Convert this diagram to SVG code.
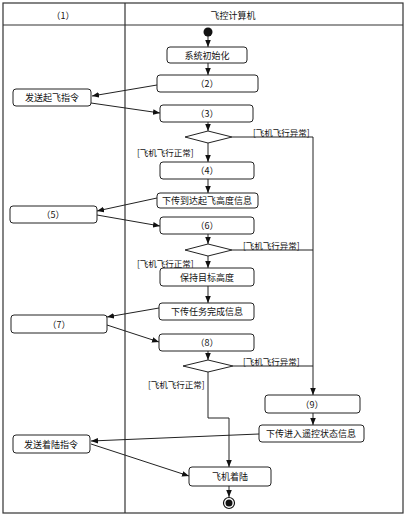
<svg xmlns="http://www.w3.org/2000/svg" width="408" height="518" viewBox="0 0 408 518">
<defs>
<marker id="ah" viewBox="0 0 10 10" refX="10" refY="5" markerWidth="7" markerHeight="7" markerUnits="userSpaceOnUse" orient="auto">
<path d="M0,1 L10,5 L0,9 z" fill="#111"/>
</marker>
<style>
.box{fill:#fff;stroke:#222;stroke-width:1}
.t{font-family:"Noto Sans CJK SC","Liberation Serif",serif;font-size:9px;fill:#111;text-anchor:middle;dominant-baseline:central}
.g{font-family:"Noto Sans CJK SC","Liberation Serif",serif;font-size:8.5px;fill:#111;dominant-baseline:central}
.c{fill:none;stroke:#222;stroke-width:1}
.a{fill:none;stroke:#222;stroke-width:1;marker-end:url(#ah)}
.frame{fill:none;stroke:#333;stroke-width:1.2}
</style>
</defs>
<rect width="408" height="518" fill="#fff"/>
<g id="frame">
<rect class="frame" x="3" y="3" width="400" height="510"/>
<line class="frame" x1="3" y1="25" x2="403" y2="25"/>
<line class="frame" x1="125" y1="3" x2="125" y2="513"/>
<text class="t" x="63" y="15">（1）</text>
<text class="t" x="233" y="15">飞控计算机</text>
</g>
<g id="connectors">
<line class="a" x1="208" y1="36" x2="208" y2="47"/>
<line class="a" x1="208" y1="63" x2="208" y2="75"/>
<line class="a" x1="157" y1="85" x2="92" y2="96"/>
<line class="a" x1="91" y1="103" x2="160" y2="113"/>
<line class="a" x1="208" y1="122" x2="208" y2="131"/>
<line class="a" x1="208" y1="143" x2="208" y2="162"/>
<line class="a" x1="208" y1="179" x2="208" y2="193"/>
<line class="a" x1="157" y1="198" x2="97" y2="211"/>
<line class="a" x1="97" y1="215" x2="160" y2="226"/>
<line class="a" x1="208" y1="234" x2="208" y2="244"/>
<line class="a" x1="208" y1="256" x2="208" y2="268"/>
<line class="a" x1="208" y1="286" x2="208" y2="303"/>
<line class="a" x1="159" y1="308" x2="107" y2="317"/>
<line class="a" x1="107" y1="325" x2="159" y2="342"/>
<line class="a" x1="208" y1="351" x2="208" y2="360"/>
<polyline class="a" points="208,372 208,418 229,418 229,467"/>
<polyline class="a" points="232,137 313,137 313,395"/>
<line class="c" x1="232" y1="250" x2="313" y2="250"/>
<line class="c" x1="233" y1="366" x2="313" y2="366"/>
<line class="a" x1="313" y1="413" x2="313" y2="425"/>
<line class="a" x1="259" y1="434" x2="91" y2="441"/>
<line class="a" x1="91" y1="444" x2="189" y2="476"/>
<line class="a" x1="229" y1="486" x2="229" y2="497"/>
<text class="g" x="253" y="132">[飞机飞行异常]</text>
<text class="g" x="137" y="152">[飞机飞行正常]</text>
<text class="g" x="243" y="245">[飞机飞行异常]</text>
<text class="g" x="137" y="263">[飞机飞行正常]</text>
<text class="g" x="243" y="361">[飞机飞行异常]</text>
<text class="g" x="148" y="384">[飞机飞行正常]</text>
</g>
<g id="start"><circle cx="208" cy="32" r="4.5" fill="#111"/></g>
<g id="n_init"><rect class="box" x="167" y="47" width="80" height="16" rx="3"/><text class="t" x="207" y="55">系统初始化</text></g>
<g id="n2"><rect class="box" x="157" y="75" width="101" height="17" rx="3"/><text class="t" x="207" y="83.5">（2）</text></g>
<g id="n_takeoff"><rect class="box" x="13" y="89" width="78" height="17" rx="3"/><text class="t" x="52" y="97.5">发送起飞指令</text></g>
<g id="n3"><rect class="box" x="160" y="105" width="93" height="17" rx="3"/><text class="t" x="207" y="113.5">（3）</text></g>
<g id="d1"><polygon class="box" points="185,137 208,131 232,137 208,143"/></g>
<g id="n4"><rect class="box" x="160" y="162" width="94" height="17" rx="3"/><text class="t" x="207" y="170.5">（4）</text></g>
<g id="n_alt"><rect class="box" x="157" y="193" width="101" height="15" rx="3"/><text class="t" x="207" y="200.5">下传到达起飞高度信息</text></g>
<g id="n5"><rect class="box" x="10" y="206" width="87" height="17" rx="3"/><text class="t" x="53" y="214.5">（5）</text></g>
<g id="n6"><rect class="box" x="160" y="217" width="94" height="17" rx="3"/><text class="t" x="207" y="225.5">（6）</text></g>
<g id="d2"><polygon class="box" points="185,250 208,244 232,250 208,256"/></g>
<g id="n_keep"><rect class="box" x="160" y="268" width="94" height="18" rx="3"/><text class="t" x="207" y="277">保持目标高度</text></g>
<g id="n_done"><rect class="box" x="159" y="303" width="95" height="17" rx="3"/><text class="t" x="207" y="311.5">下传任务完成信息</text></g>
<g id="n7"><rect class="box" x="11" y="315" width="96" height="18" rx="3"/><text class="t" x="59" y="324">（7）</text></g>
<g id="n8"><rect class="box" x="159" y="334" width="95" height="17" rx="3"/><text class="t" x="207" y="342.5">（8）</text></g>
<g id="d3"><polygon class="box" points="183,366 208,360 233,366 208,372"/></g>
<g id="n9"><rect class="box" x="265" y="395" width="95" height="18" rx="3"/><text class="t" x="312" y="404">（9）</text></g>
<g id="n_remote"><rect class="box" x="259" y="425" width="105" height="17" rx="3"/><text class="t" x="311" y="433.5">下传进入遥控状态信息</text></g>
<g id="n_land_cmd"><rect class="box" x="13" y="435" width="77" height="18" rx="3"/><text class="t" x="51" y="444">发送着陆指令</text></g>
<g id="n_land"><rect class="box" x="189" y="467" width="82" height="19" rx="3"/><text class="t" x="230" y="476.5">飞机着陆</text></g>
<g id="end"><circle cx="229" cy="503" r="5.5" fill="#fff" stroke="#111" stroke-width="1.2"/><circle cx="229" cy="503" r="3.5" fill="#111"/></g>
</svg>
